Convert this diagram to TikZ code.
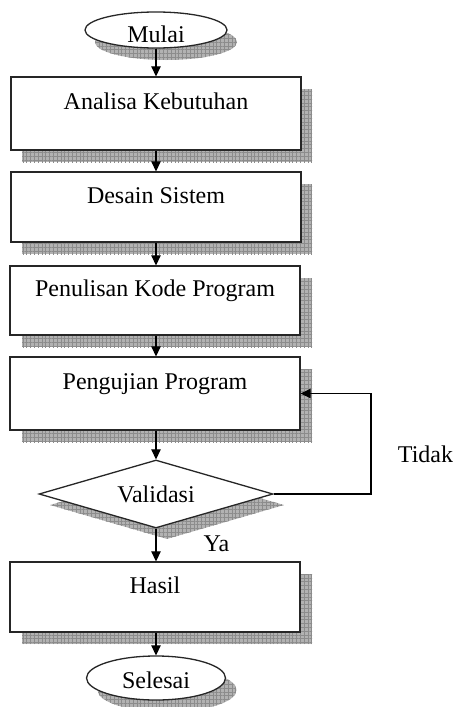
\documentclass[tikz,border=0pt]{standalone}
\usepackage{fontspec}
\setmainfont{Liberation Serif}
\usetikzlibrary{shapes.geometric,arrows.meta,patterns.meta}
\begin{document}
\begin{tikzpicture}[x=1pt,y=-1pt,
  font=\fontsize{24}{28}\selectfont,
  shdgrid/.style={draw=none,
    preaction={fill=black!30},
    preaction={pattern={Lines[angle=0,distance=3.8pt,line width=0.55pt]}, pattern color=black!45},
    pattern={Lines[angle=90,distance=3.8pt,line width=0.55pt]}, pattern color=black!45},
  boxnode/.style={rectangle, draw=black!85, line width=1.3pt, fill=white,
    minimum width=290pt, minimum height=#1, inner sep=0pt,
    text height=16pt, text depth=24pt},
  boxshd/.style={rectangle, shdgrid, minimum width=290pt, minimum height=#1, inner sep=0pt},
  termnode/.style={ellipse, draw=black!85, line width=1.3pt, fill=white, inner sep=0pt},
  termshd/.style={ellipse, shdgrid, inner sep=0pt},
  decnode/.style={diamond, draw=black!85, line width=1.3pt, fill=white, inner sep=0pt,
    shape aspect=3.4, minimum width=234pt, minimum height=68pt},
  decshd/.style={diamond, shdgrid, inner sep=0pt,
    shape aspect=3.4, minimum width=234pt, minimum height=68pt},
  arr/.style={draw=black, line width=1.2pt, -{Triangle[length=10pt,width=9.5pt]}},
  lbl/.style={inner sep=0pt, anchor=base}
]
\useasboundingbox (0,0) rectangle (457,707);

% shadows
\node[termshd, minimum width=142pt, minimum height=36pt] (ms) at (166,42) {};
\node[boxshd=73pt] (as) at (167,125.5) {};
\node[boxshd=70pt] (ds) at (167,219) {};
\node[boxshd=69pt] (ps) at (167,312.5) {};
\node[boxshd=73pt] (us) at (167,405.5) {};
\node[decshd] (vs) at (167,505) {};
\node[boxshd=70pt] (hs) at (167,609) {};
\node[termshd, minimum width=139pt, minimum height=44pt] (ss) at (167,690) {};

% main nodes
\node[termnode, minimum width=142pt, minimum height=36pt, text height=24pt, text depth=0pt] (m) at (156,30) {Mulai};
\node[boxnode=73pt] (a) at (156,113.5) {Analisa Kebutuhan};
\node[boxnode=70pt] (d) at (156,207) {Desain Sistem};
\node[boxnode=69pt] (p) at (155,300.5) {Penulisan Kode Program};
\node[boxnode=73pt] (u) at (155,393.5) {Pengujian Program};
\node[decnode] (v) at (156,494) {Validasi};
\node[boxnode=70pt] (h) at (155,597) {Hasil};
\node[termnode, minimum width=139pt, minimum height=44pt, text height=20pt, text depth=0pt] (s) at (156,678) {Selesai};

% labels
\node[lbl] (ya) at (216.5,551) {Ya};
\node[lbl] (tidak) at (425.5,462) {Tidak};

% connectors
\draw[arr] (m.south) -- (m.south |- a.north);
\draw[arr] (m.south |- a.south) -- (m.south |- d.north);
\draw[arr] (m.south |- d.south) -- (m.south |- p.north);
\draw[arr] (m.south |- p.south) -- (m.south |- u.north);
\draw[arr] (m.south |- u.south) -- (v.north);
\draw[arr] (v.south) -- (v.south |- h.north);
\draw[arr] (v.south |- h.south) -- (v.south |- s.north);
\coordinate (loopx) at (371,0);
\draw[arr] (v.east) -- (v.east -| loopx) -- (u.east -| loopx) -- (u.east);
\end{tikzpicture}
\end{document}
